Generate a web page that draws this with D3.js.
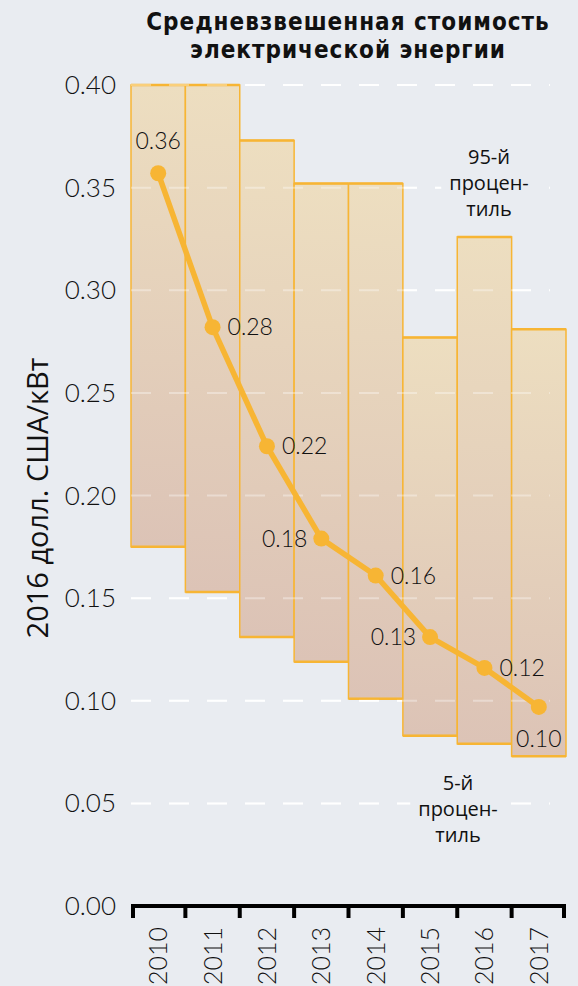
<!DOCTYPE html>
<html>
<head>
<meta charset="utf-8">
<script src="https://cdn.jsdelivr.net/npm/d3@7"></script>
<style>
  html, body { margin: 0; padding: 0; background: #e9ecf1; }
  svg { display: block; }
</style>
</head>
<body>
<div id="chart"></div>
<script>
// Годы наблюдений
const years = ["2010", "2011", "2012", "2013", "2014", "2015", "2016", "2017"];
// 95-й процентиль, долл. США 2016 / кВт
const p95 = [0.400, 0.400, 0.373, 0.352, 0.352, 0.277, 0.326, 0.281];
// 5-й процентиль
const p05 = [0.175, 0.153, 0.131, 0.119, 0.101, 0.083, 0.079, 0.073];
// Средневзвешенная стоимость
const weighted = [0.357, 0.282, 0.224, 0.179, 0.161, 0.131, 0.116, 0.097];
// Расположение подписей значений относительно точки
const labelSide = ["top", "right", "right", "left", "right", "left", "right", "bottom"];
const yTicks = [0, 0.05, 0.10, 0.15, 0.20, 0.25, 0.30, 0.35, 0.40];

const W = 578, H = 986;
const bg = "#e9ecf1";
const orange = "#f7b534";
const numFont = "Lato, sans-serif";

const svg = d3.select("#chart").append("svg")
  .attr("width", W).attr("height", H)
  .style("background", bg);

const x = d3.scaleBand().domain(years).range([131, 566]).padding(0);
const y = d3.scaleLinear().domain([0, 0.40]).range([906, 85]);

const defs = svg.append("defs");
const grad = defs.append("linearGradient")
  .attr("id", "barGrad").attr("x1", 0).attr("y1", 0).attr("x2", 0).attr("y2", 1);
grad.append("stop").attr("offset", "0%").attr("stop-color", "#eddec0");
grad.append("stop").attr("offset", "100%").attr("stop-color", "#dcc3b6");

// Title, two lines
const titleLines = ["Средневзвешенная стоимость", "электрической энергии"];
svg.append("g").selectAll("text").data(titleLines).join("text")
  .attr("x", 348).attr("y", (d, i) => 30 + i * 28)
  .attr("text-anchor", "middle")
  .style("font-family", "'DejaVu Sans Condensed', 'DejaVu Sans', sans-serif")
  .style("font-stretch", "condensed")
  .style("font-weight", 700)
  .style("font-size", "24px")
  .style("letter-spacing", "1px")
  .style("fill", "#111")
  .text(d => d);

// Grid lines (under the bars)
const gridX2 = 550;
const gridVals = yTicks.filter(d => d > 0);
svg.append("g").selectAll("line").data(gridVals).join("line")
  .attr("x1", 131).attr("x2", gridX2)
  .attr("y1", d => y(d)).attr("y2", d => y(d))
  .attr("stroke", "#ffffff").attr("stroke-width", 2)
  .attr("stroke-dasharray", "20,18");

// Percentile range bars
const bars = svg.append("g");
bars.selectAll("rect").data(years).join("rect")
  .attr("x", d => x(d))
  .attr("y", (d, i) => y(p95[i]))
  .attr("width", x.bandwidth())
  .attr("height", (d, i) => y(p05[i]) - y(p95[i]))
  .attr("fill", "url(#barGrad)")
  .attr("stroke", orange)
  .attr("stroke-width", 1.5);
// Thicker 5th / 95th percentile edges
bars.selectAll("line.top").data(years).join("line").attr("class", "top")
  .attr("x1", d => x(d)).attr("x2", d => x(d) + x.bandwidth())
  .attr("y1", (d, i) => y(p95[i])).attr("y2", (d, i) => y(p95[i]))
  .attr("stroke", orange).attr("stroke-width", 2.5);
bars.selectAll("line.bot").data(years).join("line").attr("class", "bot")
  .attr("x1", d => x(d)).attr("x2", d => x(d) + x.bandwidth())
  .attr("y1", (d, i) => y(p05[i])).attr("y2", (d, i) => y(p05[i]))
  .attr("stroke", orange).attr("stroke-width", 2.5);

// Faint grid over the bars
svg.append("g").selectAll("line").data(gridVals).join("line")
  .attr("x1", 131).attr("x2", gridX2)
  .attr("y1", d => y(d)).attr("y2", d => y(d))
  .attr("stroke", "#ffffff").attr("stroke-opacity", 0.35).attr("stroke-width", 2)
  .attr("stroke-dasharray", "20,18");

// Y axis labels
svg.append("g").selectAll("text").data(yTicks).join("text")
  .attr("x", 116).attr("y", d => y(d))
  .attr("dy", "0.35em")
  .attr("text-anchor", "end")
  .style("font-family", numFont)
  .style("font-weight", 300)
  .style("font-size", "26px")
  .style("fill", "#111")
  .text(d => d3.format(".2f")(d));

// Y axis title
svg.append("text")
  .attr("transform", "translate(48,498) rotate(-90)")
  .attr("text-anchor", "middle")
  .style("font-family", "'Open Sans', sans-serif")
  .style("font-size", "29px")
  .style("fill", "#111")
  .text("2016 долл. США/кВт");

// X axis
const xAxisG = svg.append("g");
xAxisG.append("line")
  .attr("x1", 131).attr("x2", 566)
  .attr("y1", y(0)).attr("y2", y(0))
  .attr("stroke", "#000").attr("stroke-width", 4);
const tickPos = years.map(d => x(d)).concat([x(years[years.length - 1]) + x.bandwidth()]);
xAxisG.selectAll("line.tick").data(tickPos).join("line").attr("class", "tick")
  .attr("x1", d => Math.min(Math.max(d, 133), 564)).attr("x2", d => Math.min(Math.max(d, 133), 564))
  .attr("y1", y(0)).attr("y2", y(0) + 12)
  .attr("stroke", "#000").attr("stroke-width", 4);
xAxisG.selectAll("text").data(years).join("text")
  .attr("transform", d => `translate(${x(d) + x.bandwidth() / 2 + 9},927) rotate(-90)`)
  .attr("text-anchor", "end")
  .style("font-family", numFont)
  .style("font-weight", 300)
  .style("font-size", "25px")
  .style("fill", "#111")
  .text(d => d);

// Weighted average line
const cx = d => x(d) + x.bandwidth() / 2;
const line = d3.line().x((d, i) => cx(years[i])).y(d => y(d));
svg.append("path")
  .datum(weighted)
  .attr("d", line)
  .attr("fill", "none")
  .attr("stroke", orange)
  .attr("stroke-width", 5.5)
  .attr("stroke-linejoin", "round");
svg.append("g").selectAll("circle").data(weighted).join("circle")
  .attr("cx", (d, i) => cx(years[i]))
  .attr("cy", d => y(d))
  .attr("r", 8)
  .attr("fill", orange);

// Value labels
const fmt = d3.format(".2f");
svg.append("g").selectAll("text").data(weighted).join("text")
  .attr("x", (d, i) => {
    const c = cx(years[i]);
    if (labelSide[i] === "right") return c + 15;
    if (labelSide[i] === "left") return c - 14;
    return c;
  })
  .attr("y", (d, i) => {
    const c = y(d);
    if (labelSide[i] === "top") return c - 32;
    if (labelSide[i] === "bottom") return c + 32;
    return c;
  })
  .attr("dy", "0.35em")
  .attr("text-anchor", (d, i) => labelSide[i] === "right" ? "start" : labelSide[i] === "left" ? "end" : "middle")
  .style("font-family", numFont)
  .style("font-weight", 300)
  .style("font-size", "23px")
  .style("fill", "#111")
  .text(d => fmt(d));

// Percentile annotations
function annotate(cxPos, yTop, lines) {
  const g = svg.append("g");
  const bgRect = g.append("rect").attr("fill", bg);
  const t = g.append("text")
    .attr("text-anchor", "middle")
    .style("font-family", "'Open Sans', sans-serif")
    .style("font-size", "20px")
    .style("fill", "#111");
  lines.forEach((s, k) => t.append("tspan").attr("x", cxPos).attr("y", yTop + k * 26).attr("dy", "0.35em").text(s));
  const bb = t.node().getBBox();
  bgRect.attr("x", bb.x - 8).attr("y", bb.y).attr("width", bb.width + 16).attr("height", bb.height);
}
annotate(489, 157, ["95-й", "процен-", "тиль"]);
annotate(458, 783, ["5-й", "процен-", "тиль"]);
</script>
</body>
</html>
